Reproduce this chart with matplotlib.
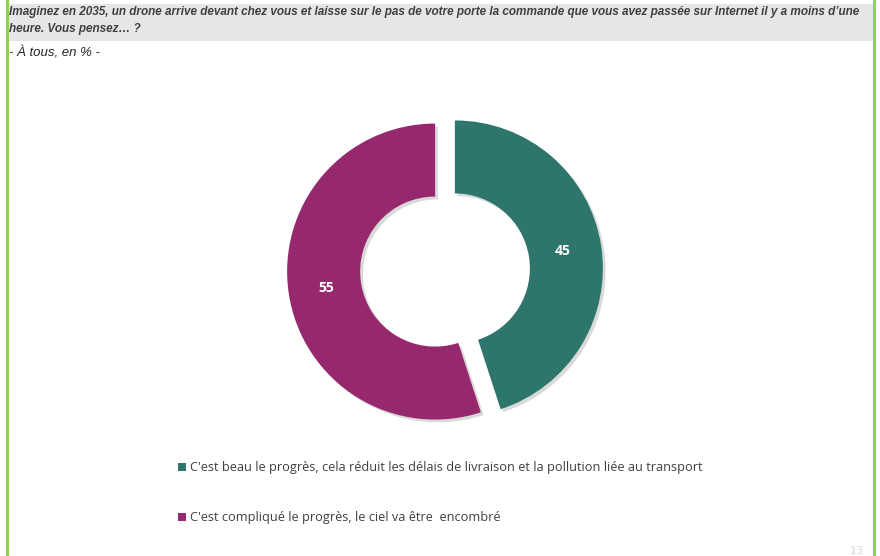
"""
Donut chart: opinion on drone delivery in 2035.
Saves out.png (880x556).
"""

import matplotlib
matplotlib.use('Agg')
from matplotlib import pyplot
from matplotlib import patches
from matplotlib import patheffects

# Data.
labels = ["C'est beau le progrès, cela réduit les délais de livraison et la pollution liée au transport",
          "C'est compliqué le progrès, le ciel va être  encombré"]
values = [45, 55]
colors = ['#2E756B', '#96296E']
title = ('Imaginez en 2035, un drone arrive devant chez vous et laisse sur le pas de votre porte '
         'la commande que vous avez passée sur Internet il y a moins d’une\nheure. Vous pensez… ?')
subtitle = '- À tous, en % -'

W, H = 880, 556
narrow = ['Liberation Sans Narrow', 'Liberation Sans', 'DejaVu Sans']
body = ['Open Sans', 'DejaVu Sans']

fig = pyplot.figure(figsize=(W / 100, H / 100), dpi=100)


def fx(px):
    return px / W


def fy(py):
    return 1 - py / H


# Frame: green side borders and grey title band.
fig.patches.append(patches.Rectangle((fx(8), fy(41)), fx(865), 37 / H, transform=fig.transFigure,
                                     facecolor='#E6E6E6', edgecolor='none', zorder=0))
for x in (6.5, 873.5):
    fig.add_artist(pyplot.Line2D([fx(x), fx(x)], [0, 1], transform=fig.transFigure,
                                 color='#92D050', lw=2.2))

fig.text(fx(9), fy(6), title, fontsize=8.5, fontweight='bold', fontstyle='italic',
         family=narrow, color='#404040', va='top', ha='left', linespacing=1.55)
fig.text(fx(9), fy(56), subtitle, fontsize=9.5, fontstyle='italic', family=narrow,
         color='#262626', va='baseline', ha='left')

# Donut (axes in pixel units, centre of the ring at cx, cy)
cx, cy, R = 445, 270, 148
half = 175
ax = fig.add_axes([fx(cx - half), fy(cy + half), 2 * half / W, 2 * half / H])
wedges, _ = ax.pie(values, colors=colors, radius=R, startangle=90, counterclock=False,
                   explode=[10, 10], wedgeprops=dict(width=73, edgecolor='none'))
ax.set_xlim(-half, half)
ax.set_ylim(-half, half)
ax.set_aspect('equal')
ax.axis('off')
for w in wedges:
    w.set_path_effects([patheffects.SimplePatchShadow(offset=(2, -2), alpha=0.15, shadow_rgbFace='black'),
                        patheffects.Normal()])

label_pos = [(563, 251), (326, 288)]
for v, (px, py) in zip(values, label_pos):
    fig.text(fx(px), fy(py), str(v), fontsize=10, fontweight='bold', family=body,
             color='white', ha='center', va='center')

# Legend
for lab, c, py in zip(labels, colors, [467, 517]):
    fig.patches.append(patches.Rectangle((fx(178), fy(py + 4)), 8 / W, 8 / H,
                                         transform=fig.transFigure, facecolor=c, edgecolor='none'))
    fig.text(fx(190), fy(py), lab, fontsize=9.2, family=body, color='#404040',
             ha='left', va='center')

fig.text(fx(857), fy(556), '13', fontsize=8, color='#D8D8D8', ha='center', va='bottom')

fig.savefig('out.png', dpi=100)
